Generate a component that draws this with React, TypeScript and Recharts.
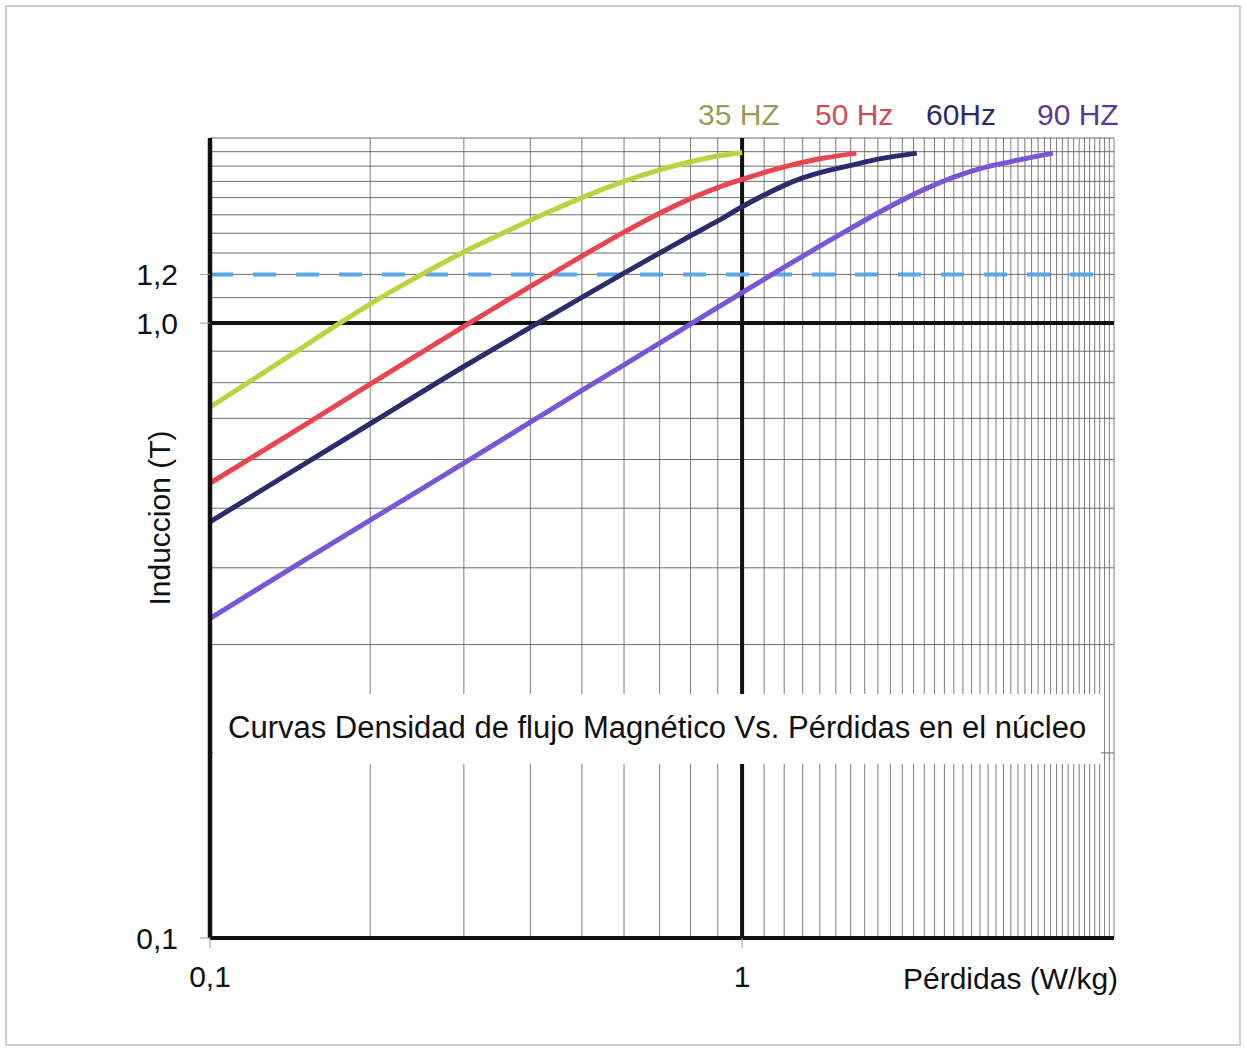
import React from "react";
import { LineChart, Line, XAxis, YAxis, ReferenceLine } from "recharts";

// ---- data ----
const hz35X = [0.1, 0.125, 0.15, 0.175, 0.2, 0.25, 0.3, 0.35, 0.4, 0.45, 0.5, 0.6, 0.7, 0.8, 0.9, 1.0];
const hz35Y = [0.73, 0.827, 0.916, 0.999, 1.074, 1.2, 1.305, 1.392, 1.47, 1.538, 1.6, 1.7, 1.775, 1.83, 1.87, 1.895];

const hz50X = [0.1, 0.15, 0.2, 0.3, 0.4, 0.5, 0.6, 0.7, 0.8, 0.9, 1.0, 1.2, 1.4, 1.64];
const hz50Y = [0.549, 0.681, 0.796, 0.988, 1.147, 1.285, 1.406, 1.509, 1.594, 1.661, 1.713, 1.795, 1.85, 1.89];

const hz60X = [0.1, 0.15, 0.2, 0.3, 0.4, 0.5, 0.6, 0.7, 0.8, 0.9, 1.0, 1.1, 1.2, 1.3, 1.4, 1.6, 1.8, 2.13];
const hz60Y = [0.475, 0.589, 0.686, 0.85, 0.984, 1.101, 1.206, 1.3, 1.387, 1.466, 1.546, 1.615, 1.675, 1.722, 1.757, 1.805, 1.848, 1.89];

const hz90X = [0.1, 0.15, 0.2, 0.3, 0.4, 0.5, 0.6, 0.7, 0.8, 1.0, 1.2, 1.4, 1.6, 1.9, 2.2, 2.5, 2.8, 3.2, 3.84];
const hz90Y = [0.331, 0.411, 0.478, 0.592, 0.69, 0.777, 0.855, 0.928, 0.996, 1.121, 1.233, 1.334, 1.426, 1.549, 1.65, 1.727, 1.783, 1.831, 1.89];

const seriesNames = ["35 HZ", "50 Hz", "60Hz", "90 HZ"];
const lineColors = ["#bcd23e", "#e8464f", "#2b2b6e", "#7a56d6"];
const legendColors = ["#9c9c58", "#d64a58", "#2d2a6a", "#5c3a96"];

const gridX = [0.2, 0.3, 0.4, 0.5, 0.6, 0.7, 0.8, 0.9,
  1.1, 1.2, 1.3, 1.4, 1.5, 1.6, 1.7, 1.8, 1.9, 2.0,
  2.1, 2.2, 2.3, 2.4, 2.5, 2.6, 2.7, 2.8, 2.9, 3.0,
  3.1, 3.2, 3.3, 3.4, 3.5, 3.6, 3.7, 3.8, 3.9, 4.0,
  4.1, 4.2, 4.3, 4.4, 4.5, 4.6, 4.7, 4.8, 4.9, 5.0];
const gridY = [0.2, 0.3, 0.4, 0.5, 0.6, 0.7, 0.8, 0.9,
  1.1, 1.2, 1.3, 1.4, 1.5, 1.6, 1.7, 1.8, 1.9, 2.0];

const xTicks = [0.1, 1];
const yTicks = [0.1, 1.0, 1.2];
const xTickLabels = ["0,1", "1"];
const yTickLabels = ["0,1", "1,0", "1,2"];
const refLevel = 1.2;
const refEndX = 4.78;

const title = "Curvas Densidad de flujo Magnético Vs. Pérdidas en el núcleo";
const xTitle = "Pérdidas (W/kg)";
const yTitle = "Induccion (T)";

const FONT = "'Liberation Sans', Arial, Helvetica, sans-serif";

const zip = (xs: number[], ys: number[]) => xs.map((x, i) => ({ x, y: ys[i] }));
const seriesData = [zip(hz35X, hz35Y), zip(hz50X, hz50Y), zip(hz60X, hz60Y), zip(hz90X, hz90Y)];

export default function App() {
  const fmtX = (v: number) => {
    const i = xTicks.indexOf(v);
    return i >= 0 ? xTickLabels[i] : "";
  };
  const fmtY = (v: number) => {
    const i = yTicks.findIndex((t) => Math.abs(t - v) < 1e-9);
    return i >= 0 ? yTickLabels[i] : "";
  };
  return (
    <div style={{ position: "absolute", left: 0, top: 0, width: 1246, height: 1050, background: "#fff", fontFamily: FONT }}>
      <div style={{ position: "absolute", left: 5, top: 5, width: 1236, height: 1041, border: "2px solid #d3cbd3", boxSizing: "border-box" }} />
      <LineChart width={1246} height={1050} margin={{ top: 138, right: 132, bottom: 52, left: 130 }}>
        <XAxis
          type="number"
          dataKey="x"
          scale="log"
          domain={[0.1, 5]}
          allowDataOverflow
          ticks={xTicks}
          tickFormatter={fmtX}
          height={60}
          tickSize={10}
          tickMargin={18}
          axisLine={{ stroke: "#111", strokeWidth: 4 }}
          tickLine={{ stroke: "#999" }}
          tick={{ fontSize: 30, fill: "#111", fontFamily: FONT }}
        />
        <YAxis
          type="number"
          dataKey="y"
          scale="log"
          domain={[0.1, 2]}
          allowDataOverflow
          ticks={yTicks}
          tickFormatter={fmtY}
          width={80}
          tickSize={10}
          tickMargin={22}
          axisLine={{ stroke: "#111", strokeWidth: 4.5 }}
          tickLine={{ stroke: "#999" }}
          tick={{ fontSize: 30, fill: "#111", fontFamily: FONT }}
        />
        {gridX.map((v) => (
          <ReferenceLine key={"gx" + v} x={v} stroke="#7c7c7c" strokeWidth={1} ifOverflow="extendDomain" />
        ))}
        {gridY.map((v) => (
          <ReferenceLine key={"gy" + v} y={v} stroke="#6e6e6e" strokeWidth={1} ifOverflow="extendDomain" />
        ))}
        <ReferenceLine x={1} stroke="#111" strokeWidth={4} />
        <ReferenceLine y={1} stroke="#111" strokeWidth={4} />
        <ReferenceLine
          segment={[{ x: 0.1, y: refLevel }, { x: refEndX, y: refLevel }]}
          stroke="#5aa6ea"
          strokeWidth={4}
          strokeDasharray="23 20"
        />
        {seriesData.map((d, i) => (
          <Line
            key={seriesNames[i]}
            data={d}
            dataKey="y"
            name={seriesNames[i]}
            type="monotone"
            stroke={lineColors[i]}
            strokeWidth={5}
            dot={false}
            isAnimationActive={false}
          />
        ))}
      </LineChart>
      {/* legend */}
      {seriesNames.map((n, i) => (
        <div
          key={"lg" + n}
          style={{
            position: "absolute",
            left: [698, 815, 926, 1037][i],
            top: 97,
            fontSize: 30,
            lineHeight: "36px",
            color: legendColors[i],
            whiteSpace: "nowrap",
          }}
        >
          {n}
        </div>
      ))}
      {/* title box */}
      <div
        style={{
          position: "absolute",
          left: 213,
          top: 694,
          width: 888,
          height: 70,
          background: "#fff",
        }}
      >
        <div style={{ position: "absolute", left: 15, top: 16, fontSize: 31, lineHeight: "36px", color: "#111", whiteSpace: "nowrap" }}>
          {title}
        </div>
      </div>
      <div style={{ position: "absolute", left: 903, top: 961, fontSize: 30, lineHeight: "36px", color: "#111", whiteSpace: "nowrap" }}>
        {xTitle}
      </div>
      <div
        style={{
          position: "absolute",
          left: 160,
          top: 518,
          fontSize: 30,
          lineHeight: "36px",
          color: "#111",
          whiteSpace: "nowrap",
          transform: "translate(-50%, -50%) rotate(-90deg)",
        }}
      >
        {yTitle}
      </div>
    </div>
  );
}
